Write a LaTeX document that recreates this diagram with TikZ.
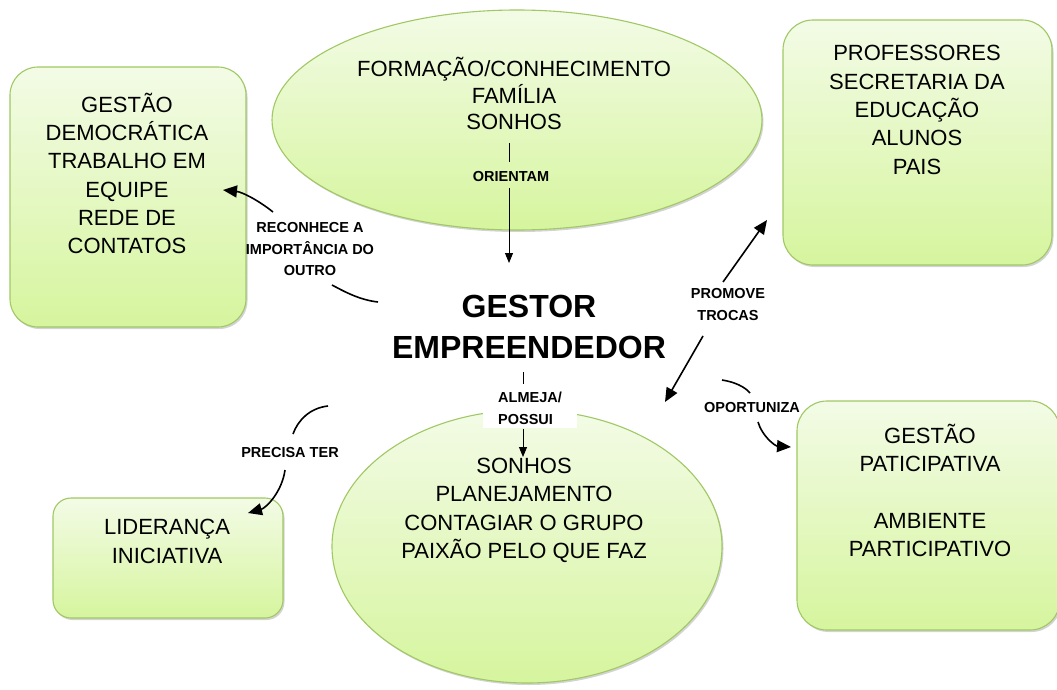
\documentclass[tikz,border=0pt]{standalone}
\usepackage{fontspec}
\setmainfont{Liberation Sans}
\usetikzlibrary{shapes.geometric,arrows.meta,shadows}
\definecolor{bordergreen}{RGB}{160,200,100}
\definecolor{topgreen}{RGB}{243,251,230}
\definecolor{botgreen}{RGB}{214,245,158}
\begin{document}
\begin{tikzpicture}[x=1pt,y=-1pt,
  greenfill/.style={draw=bordergreen, line width=1.1pt, top color=topgreen, bottom color=botgreen,
     drop shadow={shadow xshift=1.5pt, shadow yshift=-2pt, opacity=0.35, fill=gray}},
  roundbox/.style={greenfill, rectangle, rounded corners=#1, inner sep=0pt},
  ellbox/.style={greenfill, ellipse, inner sep=0pt},
  boxtext/.style={align=center, font=\fontsize{22}{28.3}\selectfont, inner sep=0pt},
  lbl/.style={align=center, font=\bfseries\fontsize{14.5}{21.5}\selectfont, inner sep=0pt},
  titletext/.style={align=center, font=\bfseries\fontsize{32}{41}\selectfont, inner sep=0pt},
  thickcon/.style={line width=1.6pt, black},
  thincon/.style={line width=0.9pt, black},
  bigtip/.style={-{Triangle[length=14pt,width=12pt]}},
  smalltip/.style={-{Triangle[length=10pt,width=8pt]}}
]
\useasboundingbox (0,0) rectangle (1057,690);

% shapes
\node[roundbox=28pt, minimum width=236pt, minimum height=260pt] (b1) at (128,197) {};
\node[ellbox, minimum width=490pt, minimum height=220pt] (e1) at (517,120) {};
\node[roundbox=30pt, minimum width=269pt, minimum height=245pt] (b2) at (917.5,142.5) {};
\node[roundbox=30pt, minimum width=263pt, minimum height=229pt] (b3) at (928.5,515.5) {};
\node[roundbox=18pt, minimum width=230pt, minimum height=120pt] (b4) at (168,558) {};
\node[ellbox, minimum width=390pt, minimum height=273pt] (e2) at (527,546.5) {};

% texts
\node[boxtext] (t1) at (127,173.5) {GESTÃO\\DEMOCRÁTICA\\TRABALHO EM\\EQUIPE\\REDE DE\\CONTATOS};
\node[boxtext, font=\fontsize{22}{26.5}\selectfont] (t2) at (514,93.5) {FORMAÇÃO/CONHECIMENTO\\FAMÍLIA\\SONHOS};
\node[boxtext] (t3) at (917,110) {PROFESSORES\\SECRETARIA DA\\EDUCAÇÃO\\ALUNOS\\PAIS};
\node[boxtext] (t4) at (930,490.5) {GESTÃO\\PATICIPATIVA\\~\\AMBIENTE\\PARTICIPATIVO};
\node[boxtext] (t5) at (167,541.5) {LIDERANÇA\\INICIATIVA};
\node[boxtext] (t6) at (524,510.5) {SONHOS\\PLANEJAMENTO\\CONTAGIAR O GRUPO\\PAIXÃO PELO QUE FAZ};
\node[titletext] (gestor) at (529,326.5) {GESTOR\\EMPREENDEDOR};

% connector labels
\node[lbl] (lorient) at (511,177) {ORIENTAM};
\node[lbl] (lrecon) at (310,249.5) {RECONHECE A\\IMPORTÂNCIA DO\\OUTRO};
\node[lbl] (lpromo) at (728,304.5) {PROMOVE\\TROCAS};
\node[lbl, align=left, fill=white, inner xsep=15pt, inner ysep=3pt] (lalmeja) at (530,408.5) {ALMEJA/\\POSSUI};
\node[lbl] (lprecisa) at (290,453) {PRECISA TER};
\node[lbl] (loport) at (752,408) {OPORTUNIZA};

% connector end points
\coordinate (o1) at (509,143); \coordinate (o2) at (509,162);
\coordinate (o3) at (509,188); \coordinate (o4) at (509,263);
\coordinate (a1) at (523,372); \coordinate (a2) at (523,384);
\coordinate (a3) at (523,429); \coordinate (a4) at (523,457);
\coordinate (r1) at (378,302); \coordinate (r2) at (332,285);
\coordinate (r3) at (273,212); \coordinate (r4) at (223,190);
\coordinate (p1) at (328,406); \coordinate (p2) at (293,434);
\coordinate (p3) at (285,470); \coordinate (p4) at (248,513);
\coordinate (m1) at (723,282); \coordinate (m2) at (767,220);
\coordinate (m3) at (703,336); \coordinate (m4) at (665,402);
\coordinate (q1) at (722,380); \coordinate (q2) at (750,393);
\coordinate (q3) at (758,422); \coordinate (q4) at (791,447);

% connectors
\draw[thincon] (o1) -- (o2);
\draw[thincon, smalltip] (o3) -- (o4);
\draw[thincon] (a1) -- (a2);
\draw[thincon, smalltip] (a3) -- (a4);
\draw[thickcon] (r1) .. controls (360,300) and (345,292) .. (r2);
\draw[thickcon, bigtip] (r3) .. controls (258,200) and (242,192) .. (r4);
\draw[thickcon] (p1) .. controls (310,408) and (298,420) .. (p2);
\draw[thickcon, bigtip] (p3) .. controls (282,492) and (266,508) .. (p4);
\draw[thickcon, bigtip] (m1) -- (m2);
\draw[thickcon, bigtip] (m3) -- (m4);
\draw[thickcon] (q1) .. controls (735,382) and (745,387) .. (q2);
\draw[thickcon, bigtip] (q3) .. controls (762,436) and (775,446) .. (q4);
\end{tikzpicture}
\end{document}
